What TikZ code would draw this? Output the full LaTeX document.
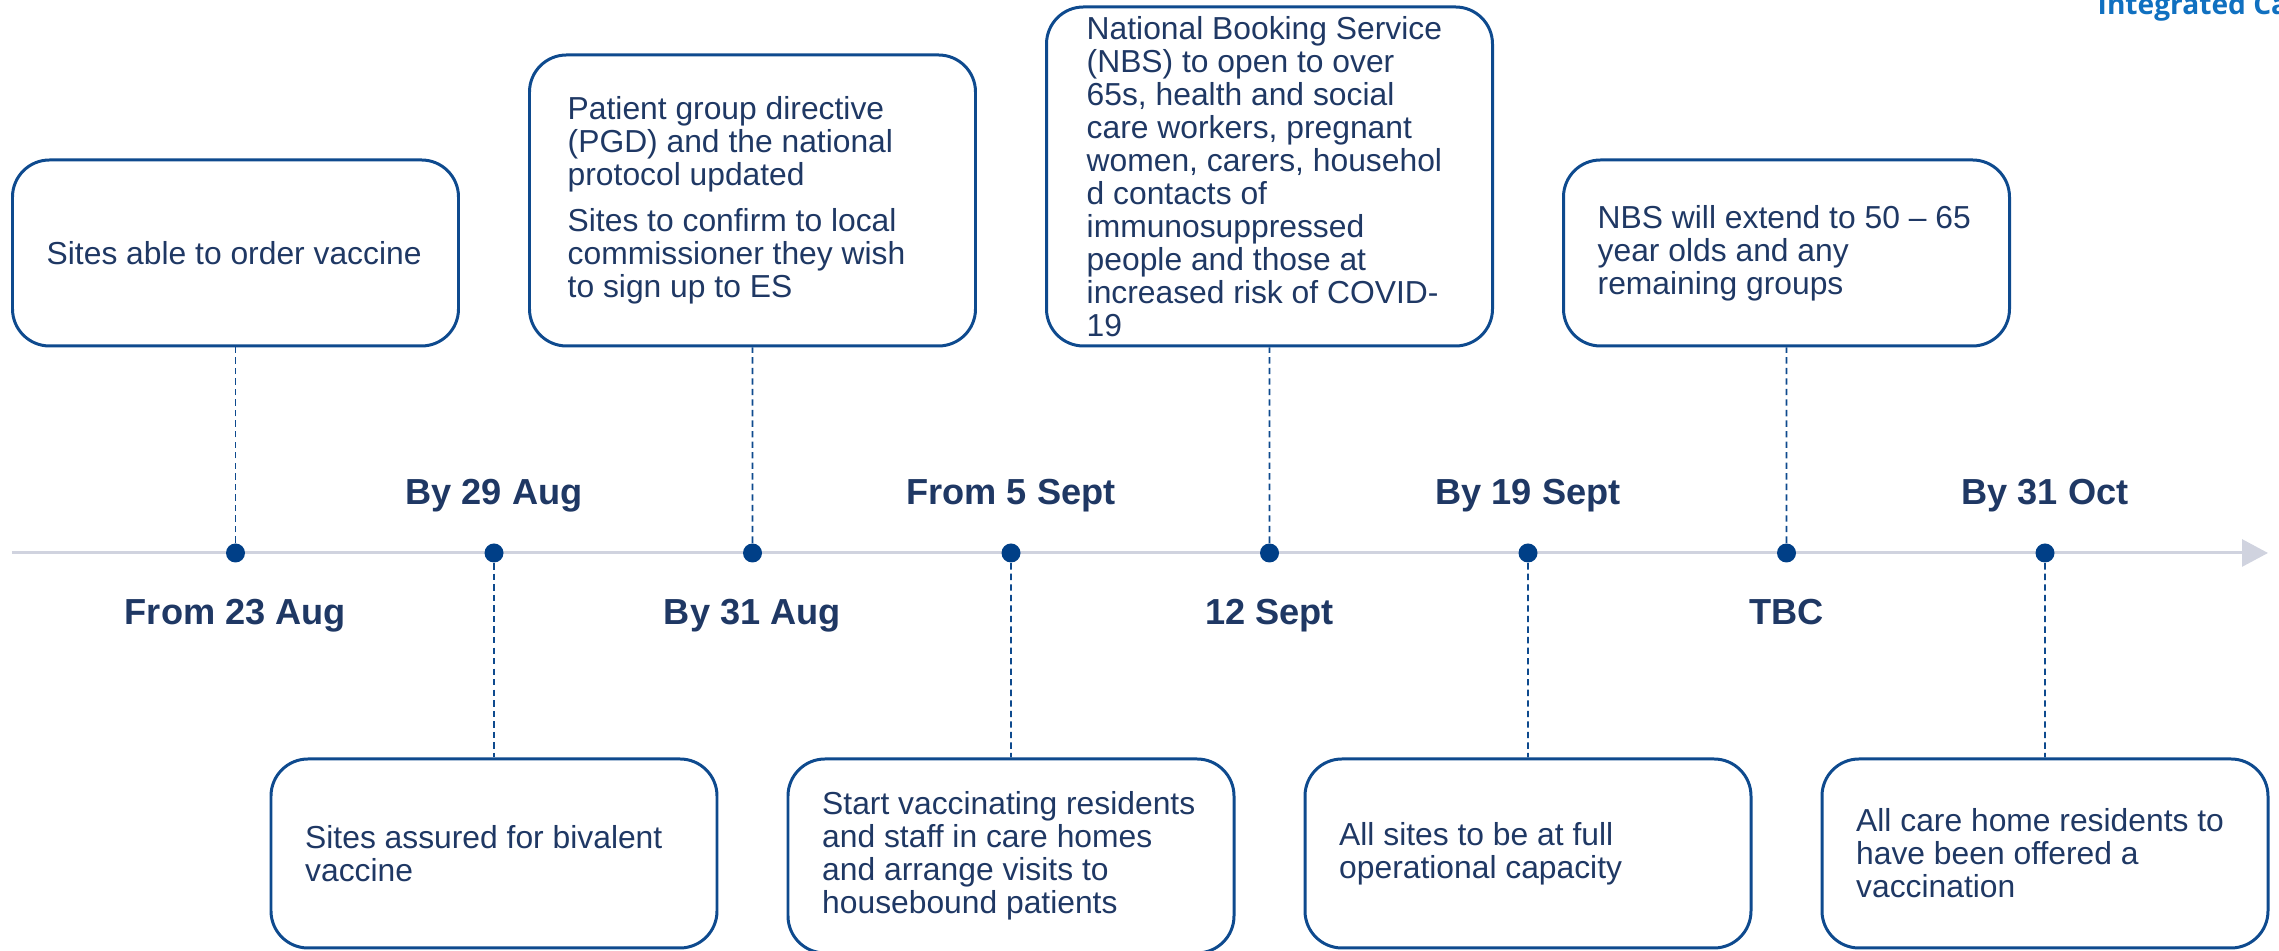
\documentclass[tikz,border=0pt]{standalone}
\usepackage{fontspec}
\setmainfont{Liberation Sans}
\newfontfamily\headfont{Open Sans}
\usepackage{xcolor}
\usepackage{tikz}
\usetikzlibrary{arrows.meta}
\definecolor{xanhdam}{HTML}{1F3864}
\definecolor{vien}{HTML}{0E4A8E}
\definecolor{mauchm}{HTML}{003F87}
\definecolor{truc}{HTML}{D0D3DF}
\definecolor{tieude}{HTML}{1070C0}

\begin{document}
\begin{tikzpicture}[
	hop/.style={draw=vien, line width=0.85pt, rounded corners=0.37cm, minimum width=4.46cm, inner sep=0pt},
	chu/.style={anchor=west, xshift=0.35cm, inner sep=0pt, align=left, text=xanhdam, font=\fontsize{9.05}{9.4}\selectfont},
	cham/.style={circle, fill=mauchm, minimum size=0.19cm, inner sep=0pt},
	ngay/.style={text=xanhdam, font=\fontsize{10.3}{12}\selectfont\bfseries},
	noi/.style={draw=vien, line width=0.55pt, dash pattern=on 1.8pt off 1.2pt}]
			\useasboundingbox (0,0) rectangle (22.79,-9.51);
			% Vẽ trục
			\coordinate (dau) at (0.12,-5.53);
			\coordinate (cuoi) at (22.68,-5.53);
			\draw [truc, line width=0.85pt, -{Triangle[length=0.26cm,width=0.27cm]}] (dau) -- (cuoi);
			\foreach \i in {1,...,8}
			\node [cham] (d\i) at ({2.355+(\i-1)*2.585},-5.53) {};
			% Nhãn ngày
			\foreach \i/\nhan in {1/From 23 Aug,3/By 31 Aug,5/12 Sept,7/TBC}
			\node [ngay, anchor=base, yshift=-0.72cm] (n\i) at (d\i) {\nhan};
			\foreach \i/\nhan in {2/By 29 Aug,4/From 5 Sept,6/By 19 Sept,8/By 31 Oct}
			\node [ngay, anchor=base, yshift=0.48cm] (n\i) at (d\i) {\nhan};
			% Các hộp phía trên
			\node [hop, minimum height=1.86cm] (h1) at (2.355,-2.53) {};
			\node [hop, minimum height=2.91cm] (h3) at (7.525,-2.005) {};
			\node [hop, minimum height=3.39cm] (h5) at (12.695,-1.765) {};
			\node [hop, minimum height=1.86cm] (h7) at (17.865,-2.53) {};
			% Các hộp phía dưới
			\node [hop, minimum height=1.89cm] (h2) at (4.94,-8.535) {};
			\node [hop, minimum height=1.94cm] (h4) at (10.11,-8.56) {};
			\node [hop, minimum height=1.89cm] (h6) at (15.28,-8.535) {};
			\node [hop, minimum height=1.89cm] (h8) at (20.45,-8.535) {};
			% Chữ trong hộp
			\node [chu] (c1) at (h1.west) {Sites able to order vaccine};
			\node [chu, xshift=0.04cm] (c3) at (h3.west) {Patient group directive\\(PGD) and the national\\protocol updated\\[0.125cm]Sites to confirm to local\\commissioner they wish\\to sign up to ES};
			\node [chu, xshift=0.06cm] (c5) at (h5.west) {National Booking Service\\(NBS) to open to over\\65s, health and social\\care workers, pregnant\\women, carers, househol\\d contacts of\\immunosuppressed\\people and those at\\increased risk of COVID-\\19};
			\node [chu] (c7) at (h7.west) {NBS will extend to 50 -- 65\\year olds and any\\remaining groups};
			\node [chu] (c2) at (h2.west) {Sites assured for bivalent\\vaccine};
			\node [chu] (c4) at (h4.west) {Start vaccinating residents\\and staff in care homes\\and arrange visits to\\housebound patients};
			\node [chu] (c6) at (h6.west) {All sites to be at full\\operational capacity};
			\node [chu] (c8) at (h8.west) {All care home residents to\\have been offered a\\vaccination};
			% Nối chấm với hộp
			\foreach \i in {1,...,8}
			\draw [noi] (d\i) -- (h\i);
			\node [anchor=base west, inner sep=0pt, text=tieude, font=\headfont\bfseries\fontsize{8}{9}\selectfont] (tieude) at (20.97,-0.147) {Integrated Ca};
		\end{tikzpicture}
\end{document}
